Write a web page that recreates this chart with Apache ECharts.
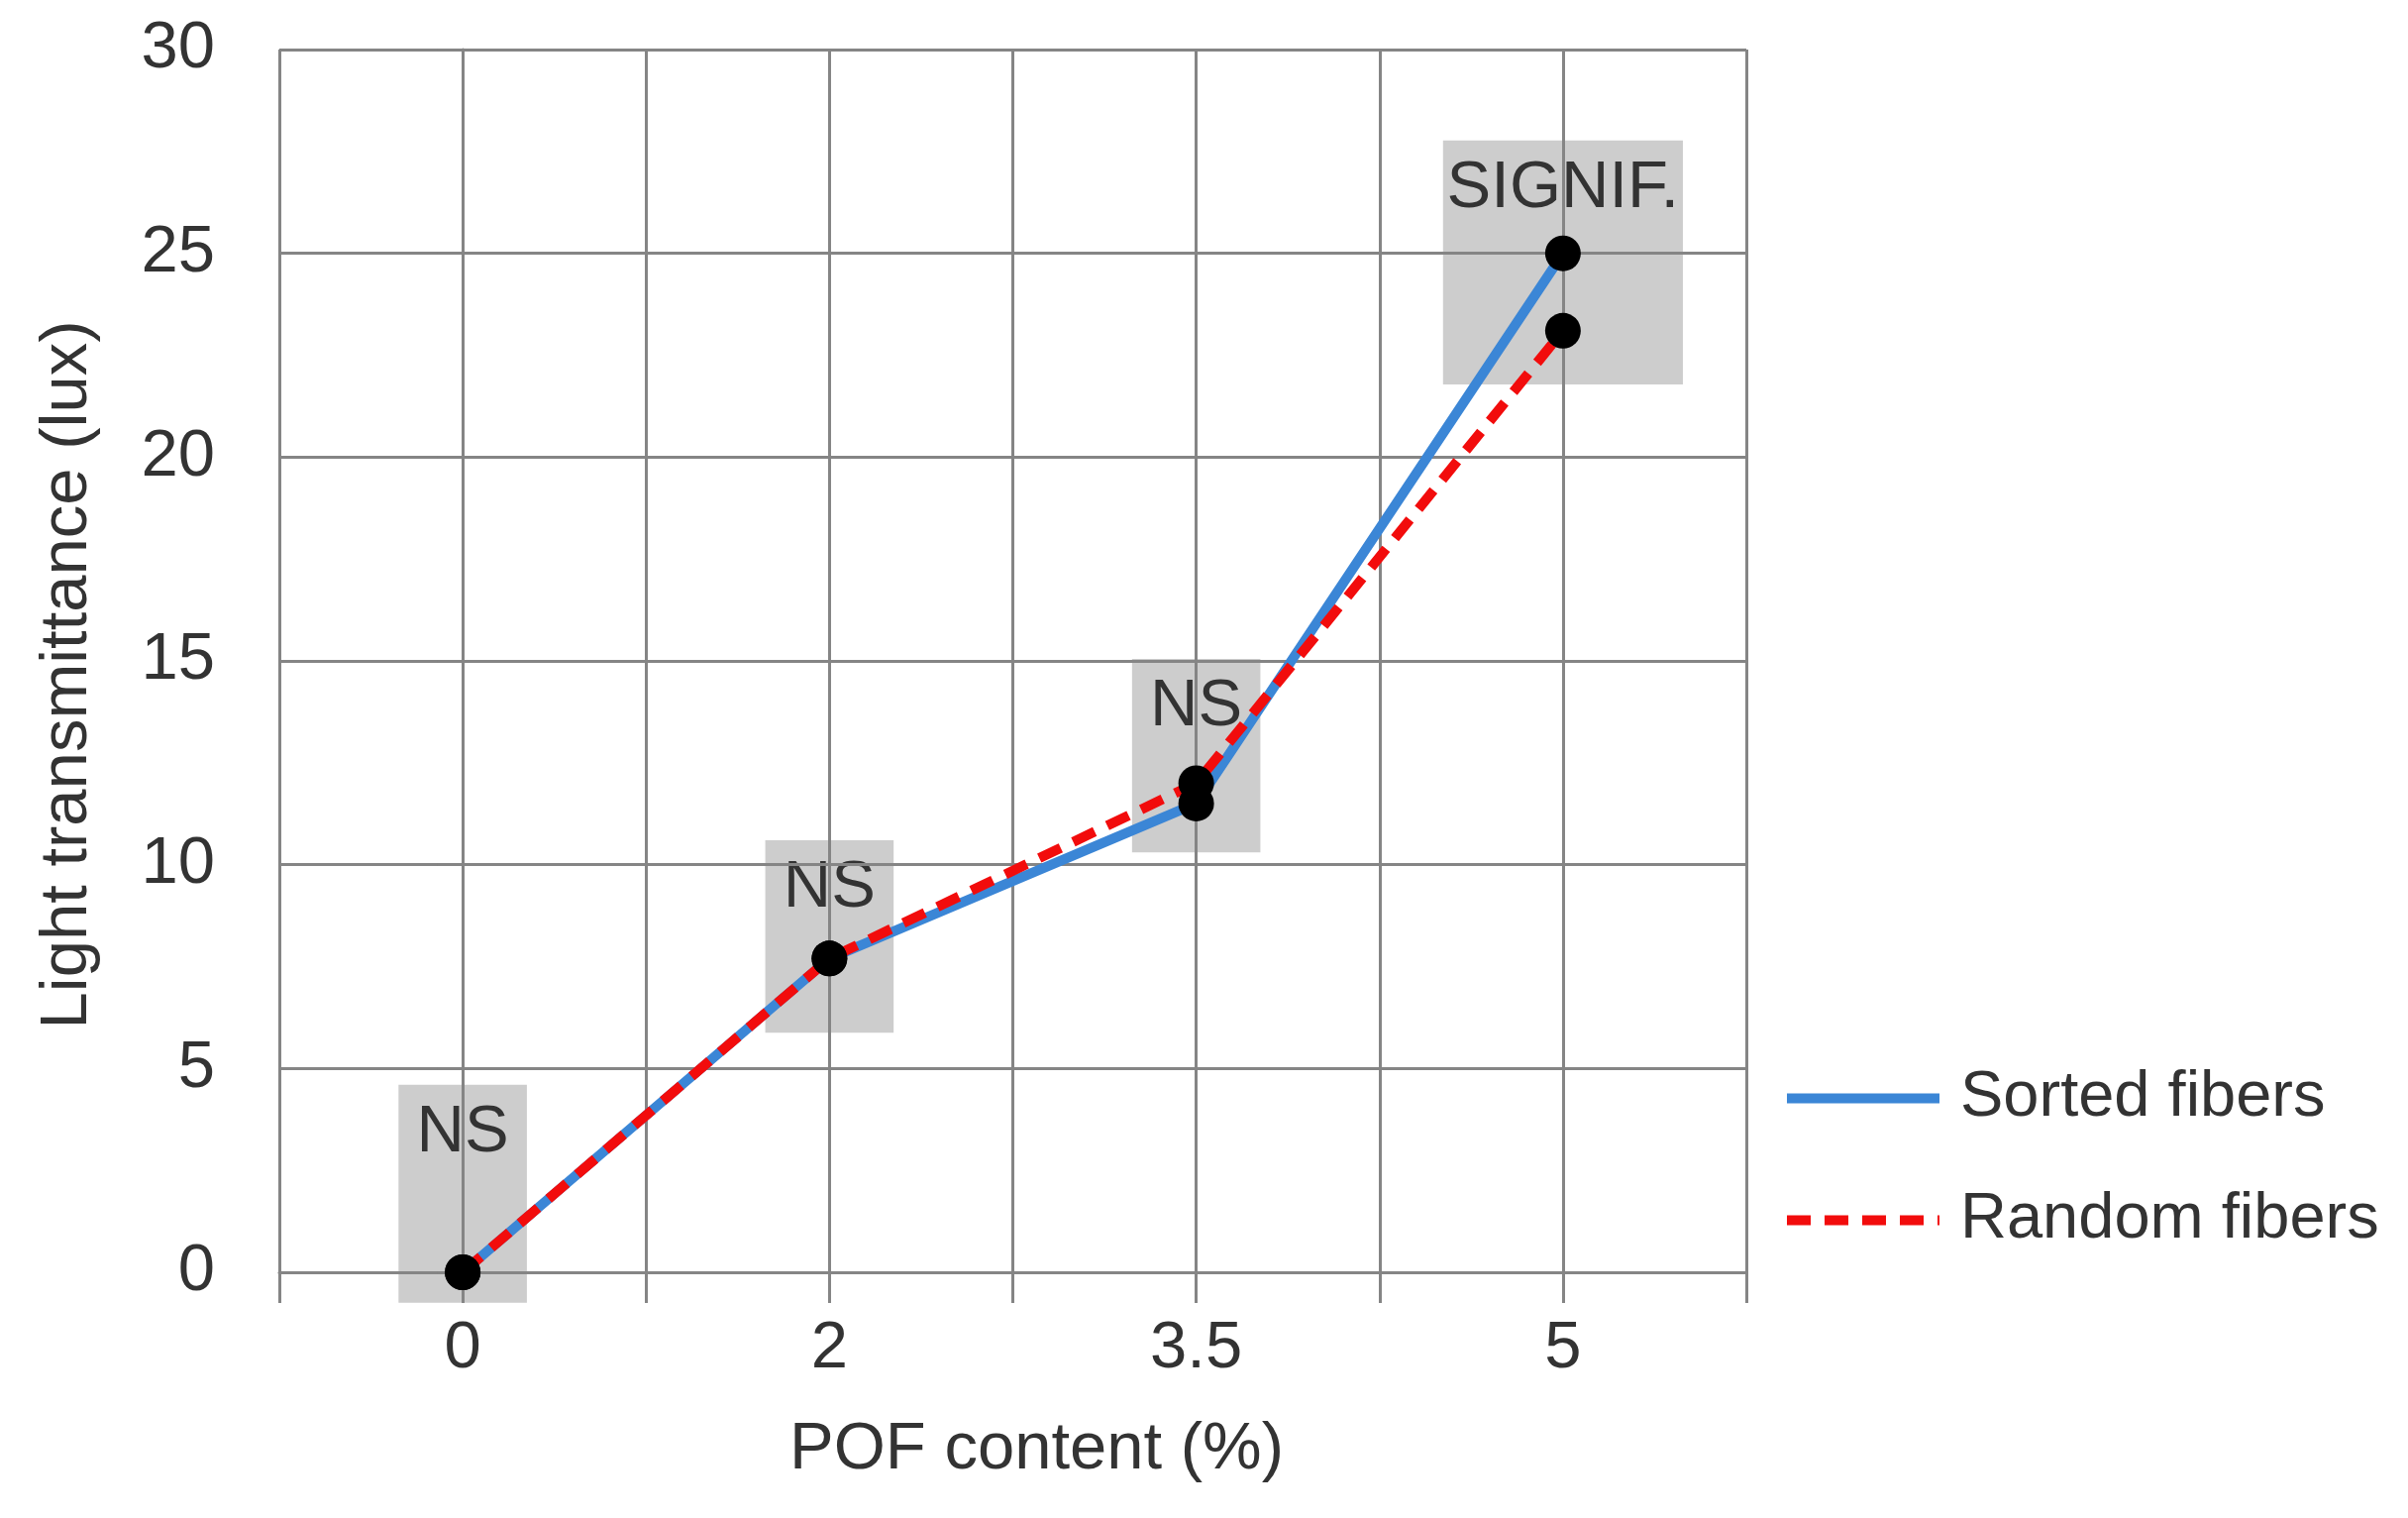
<!DOCTYPE html>
<html><head><meta charset="utf-8">
<script src="https://cdn.jsdelivr.net/npm/echarts@6/dist/echarts.min.js"></script>
<style>html,body{margin:0;padding:0;background:#fff}#c{width:2431px;height:1532px}</style>
</head><body><div id="c"></div>
<script>
// ---- data ----
const categories = ['0', '2', '3.5', '5'];
const sortedFibers = [0, 7.7, 11.5, 25.0];
const randomFibers = [0, 7.7, 12.0, 23.1];
const yTicks = [0, 5, 10, 15, 20, 25, 30];
const sigLabels = ['NS', 'NS', 'NS', 'SIGNIF.'];
const sigBoxLow = [-0.75, 5.88, 10.3, 21.78];
const sigBoxHigh = [4.6, 10.6, 15.05, 27.77];

const FONT = '"Liberation Sans", Arial, sans-serif';
const TEXT = '#333333';
const GRID = '#858585';
const FS = 67;
const gridLine = { color: GRID, width: 3 };

const chart = echarts.init(document.getElementById('c'), null, { renderer: 'canvas' });

const boxData = categories.map((c, i) => [i, sigBoxLow[i], sigBoxHigh[i]]);

chart.setOption({
  animation: false,
  textStyle: { fontFamily: FONT },
  grid: { left: 282, right: 668, top: 50, bottom: 248, containLabel: false, outerBoundsMode: 'none' },
  legend: {
    orient: 'vertical', left: 1799, top: 1076, padding: 0,
    itemWidth: 154, itemHeight: 20, itemGap: 58,
    selectedMode: false,
    data: ['Sorted fibers', 'Random fibers'],
    itemStyle: { opacity: 0 },
    lineStyle: { width: 10 },
    textStyle: { fontSize: 65, color: TEXT, fontFamily: FONT, padding: [0, 0, 0, 16] }
  },
  xAxis: {
    type: 'value', min: -0.5, max: categories.length - 0.5, interval: 0.5, z: 2,
    name: 'POF content (%)', nameLocation: 'middle', nameGap: 146,
    nameTextStyle: { fontSize: FS, color: TEXT, fontFamily: FONT, padding: [0, 0, 0, 48] },
    axisLine: { show: true, onZero: false, lineStyle: gridLine },
    axisTick: { show: true, length: 31, lineStyle: gridLine },
    axisLabel: {
      fontSize: FS, color: TEXT, margin: 44, showMinLabel: true, showMaxLabel: true,
      formatter: function (v) {
        const r = Math.round(v);
        return Math.abs(v - r) < 1e-9 && categories[r] !== undefined ? categories[r] : '';
      }
    },
    splitLine: { show: true, lineStyle: gridLine }
  },
  yAxis: {
    type: 'value', min: yTicks[0], max: yTicks[yTicks.length - 1], interval: yTicks[1] - yTicks[0], z: 2,
    name: 'Light transmittance (lux)', nameLocation: 'middle', nameGap: 180,
    nameTextStyle: { fontSize: FS, color: TEXT, fontFamily: FONT, padding: [0, 28, 0, 0] },
    axisLine: { show: true, lineStyle: gridLine },
    axisTick: { show: true, length: 26, lineStyle: gridLine },
    axisLabel: { fontSize: FS, color: TEXT, margin: 65 },
    splitLine: { show: true, lineStyle: gridLine }
  },
  series: [
    {
      type: 'custom', z: 1, clip: false, silent: true,
      data: boxData,
      encode: { x: 0, y: [1, 2] },
      renderItem: function (params, api) {
        const i = api.value(0);
        const lo = api.value(1), hi = api.value(2);
        const label = sigLabels[params.dataIndex];
        const hw = label.length > 2 ? 0.327 : 0.175;
        const p1 = api.coord([i - hw, hi]);
        const p2 = api.coord([i + hw, lo]);
        return {
          type: 'group',
          children: [
            { type: 'rect', shape: { x: p1[0], y: p1[1], width: p2[0] - p1[0], height: p2[1] - p1[1] },
              style: { fill: '#cdcdcd' } },
            { type: 'text', style: { text: label, x: (p1[0] + p2[0]) / 2, y: p1[1] + 49,
              align: 'center', verticalAlign: 'middle', fontSize: FS, fontFamily: FONT, fill: TEXT } }
          ]
        };
      }
    },
    {
      name: 'Sorted fibers', type: 'line', z: 3,
      data: categories.map((c, i) => [i, sortedFibers[i]]),
      symbol: 'circle', symbolSize: 36,
      itemStyle: { color: '#000000' },
      lineStyle: { color: '#3b86d6', width: 10 },
      emphasis: { disabled: true }
    },
    {
      name: 'Random fibers', type: 'line', z: 3,
      data: categories.map((c, i) => [i, randomFibers[i]]),
      symbol: 'circle', symbolSize: 36,
      itemStyle: { color: '#000000' },
      lineStyle: { color: '#f20c0c', width: 10, type: [24, 14] },
      emphasis: { disabled: true }
    }
  ]
});
</script>
</body></html>
